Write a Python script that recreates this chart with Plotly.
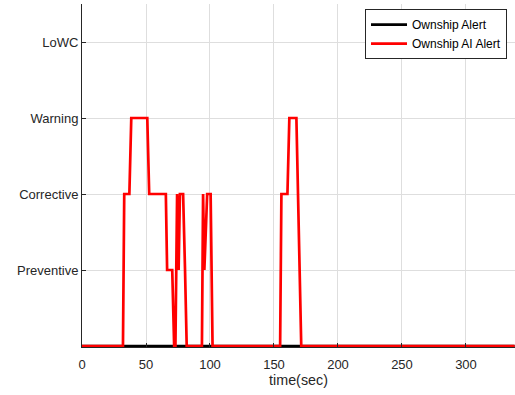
import plotly.graph_objects as go

# Time samples (sec) and alert levels (0=none, 1=Preventive, 2=Corrective, 3=Warning, 4=LoWC)
ownship_t = [0, 338]
ownship_alert = [0, 0]

ai_t = [0, 32, 33, 37, 38.5, 51, 52.5, 65.5, 66.5, 70.5, 72, 73, 74.3, 75.5, 76.5,
        79, 80.5, 81.8, 93.7, 94.6, 95.6, 97.8, 100.5, 102, 154.8, 155.8, 160.5,
        162, 167.5, 171.3, 338]
ai_alert = [0, 0, 2, 2, 3, 3, 2, 2, 1, 1, 0, 0, 2, 1, 2,
            2, 1, 0, 0, 2, 1, 2, 2, 0, 0, 2, 2,
            3, 3, 0, 0]

y_tickvals = [0, 1, 2, 3, 4]
y_ticktext = ["", "Preventive", "Corrective", "Warning", "LoWC"]
x_tickvals = [0, 50, 100, 150, 200, 250, 300, 350]

axis_color = "#262626"
grid_color = "#dedede"
font_family = "Liberation Sans, Arial, sans-serif"

fig = go.Figure()
fig.add_trace(go.Scatter(x=ownship_t, y=ownship_alert, mode="lines",
                         name="Ownship Alert", line=dict(color="black", width=2.7)))
fig.add_trace(go.Scatter(x=ai_t, y=ai_alert, mode="lines",
                         name="Ownship AI Alert", line=dict(color="red", width=2.7)))

fig.update_layout(
    width=515, height=395,
    margin=dict(l=82, r=0, t=4, b=48),
    paper_bgcolor="white", plot_bgcolor="white",
    font=dict(family=font_family, color=axis_color, size=13),
    showlegend=True,
    legend=dict(x=0.6536, y=0.985, xanchor="left", yanchor="top",
                bgcolor="white", bordercolor=axis_color, borderwidth=1,
                font=dict(size=12, color="black"),
                tracegroupgap=0, itemwidth=36),
)
fig.update_xaxes(
    range=[0, 338.3], tickvals=x_tickvals, ticks="inside", ticklen=4,
    tickcolor=axis_color, showline=True, linecolor=axis_color, linewidth=1,
    showgrid=True, gridcolor=grid_color, gridwidth=1, zeroline=False,
    title=dict(text="time(sec)", font=dict(size=14.3), standoff=4),
    tickfont=dict(size=13), ticklabelstandoff=5,
)
fig.update_yaxes(
    range=[-0.013, 4.5], tickvals=y_tickvals, ticktext=y_ticktext,
    ticks="inside", ticklen=4, tickcolor=axis_color,
    showline=True, linecolor=axis_color, linewidth=1,
    showgrid=True, gridcolor=grid_color, gridwidth=1, zeroline=False,
    tickfont=dict(size=13),
)

fig.write_html("out.html")
